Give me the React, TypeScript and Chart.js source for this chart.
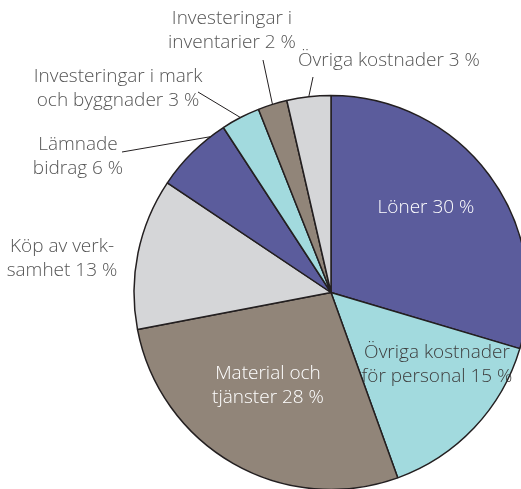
import React, { useEffect, useRef } from "react";
import { Chart, registerables } from "chart.js";

Chart.register(...registerables);

const categories = [
  "Löner",
  "Övriga kostnader för personal",
  "Material och tjänster",
  "Köp av verksamhet",
  "Lämnade bidrag",
  "Investeringar i mark och byggnader",
  "Investeringar i inventarier",
  "Övriga kostnader",
];
// slice sizes (the printed labels are rounded)
const values = [29.6, 14.9, 27.5, 12.4, 6.4, 3.2, 2.4, 3.6];
const labelLines: string[][] = [
  ["Löner 30 %"],
  ["Övriga kostnader", "för personal 15 %"],
  ["Material och", "tjänster 28 %"],
  ["Köp av verk-", "samhet 13 %"],
  ["Lämnade", "bidrag 6 %"],
  ["Investeringar i mark", "och byggnader 3 %"],
  ["Investeringar i", "inventarier 2 %"],
  ["Övriga kostnader 3 %"],
];
const colors = ["#5b5c9c", "#a2dade", "#918579", "#d5d6d8", "#5b5c9c", "#a2dade", "#918579", "#d5d6d8"];

// layout of the labels (text centre per line start, optional leader)
type LabelPos = { x: number; y: number; color: string; leader?: { x: number; y: number; frac: number } };
const labelPos: LabelPos[] = [
  { x: 426, y: 208, color: "#ffffff" },
  { x: 437, y: 353, color: "#3d3d3d" },
  { x: 268, y: 374, color: "#ffffff" },
  { x: 62, y: 247, color: "#555555" },
  { x: 78, y: 145, color: "#555555", leader: { x: 122, y: 152, frac: 0.8 } },
  { x: 118, y: 77, color: "#555555", leader: { x: 198, y: 92, frac: 0.5 } },
  { x: 232, y: 19, color: "#555555", leader: { x: 263, y: 60, frac: 0.5 } },
  { x: 389, y: 61, color: "#555555", leader: { x: 313, y: 77, frac: 0.5 } },
];
const LINE_H = 24;
const FONT = "300 19px 'Open Sans'";

const labelPlugin = {
  id: "sliceLabels",
  afterDatasetsDraw(chart: any) {
    const ctx = chart.ctx;
    const meta = chart.getDatasetMeta(0);
    ctx.save();
    ctx.font = FONT;
    ctx.textAlign = "center";
    ctx.textBaseline = "middle";
    labelPos.forEach((p, i) => {
      const arc = meta.data[i];
      if (!arc) return;
      const { x, y, startAngle, endAngle, outerRadius } = arc.getProps(
        ["x", "y", "startAngle", "endAngle", "outerRadius"],
        true
      );
      if (p.leader) {
        const a = startAngle + (endAngle - startAngle) * p.leader.frac;
        const ex = x + Math.cos(a) * outerRadius;
        const ey = y + Math.sin(a) * outerRadius;
        ctx.beginPath();
        ctx.strokeStyle = "#231f20";
        ctx.lineWidth = 1;
        ctx.moveTo(p.leader.x, p.leader.y);
        ctx.lineTo(ex, ey);
        ctx.stroke();
      }
      ctx.fillStyle = p.color;
      labelLines[i].forEach((line, j) => {
        ctx.fillText(line, p.x, p.y + j * LINE_H);
      });
    });
    ctx.restore();
  },
};

export default function App() {
  const ref = useRef<HTMLCanvasElement>(null);
  useEffect(() => {
    document.body.style.margin = "0";
    const chart = new Chart(ref.current!, {
      type: "pie",
      data: {
        labels: categories,
        datasets: [
          {
            data: values,
            backgroundColor: colors,
            borderColor: "#231f20",
            borderWidth: 1.5,
            radius: 197,
          } as any,
        ],
      },
      options: {
        responsive: false,
        animation: false,
        layout: { padding: { left: 141, right: 0, top: 96, bottom: 0 } },
        plugins: { legend: { display: false }, tooltip: { enabled: false } },
      },
      plugins: [labelPlugin],
    });
    return () => chart.destroy();
  }, []);
  return (
    <div style={{ width: 521, height: 489, background: "#fff" }}>
      <canvas ref={ref} width={521} height={489} style={{ display: "block" }} />
    </div>
  );
}
